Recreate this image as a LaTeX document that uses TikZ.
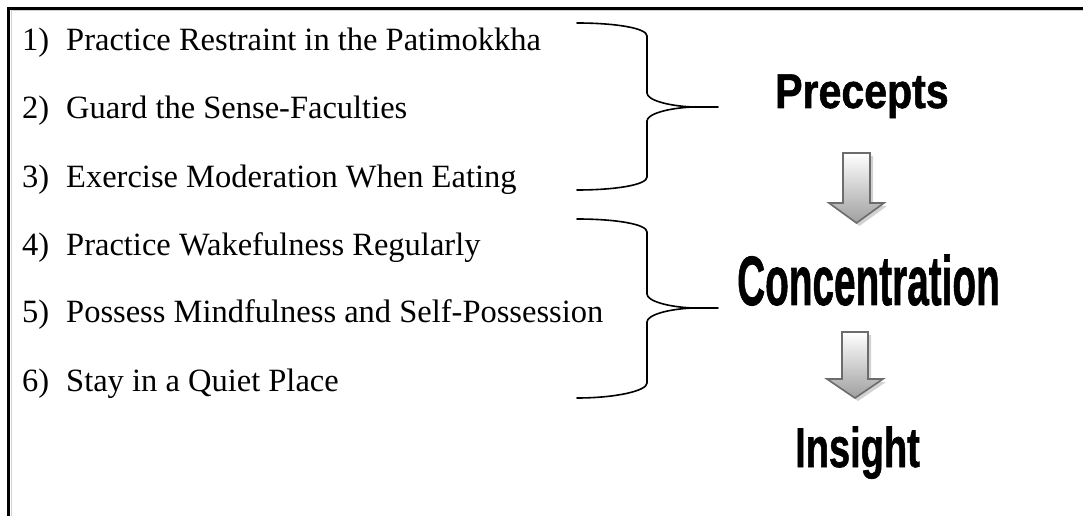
\documentclass[tikz,border=0pt]{standalone}
\usepackage{fontspec}
\setmainfont{Liberation Serif}
\newfontfamily\hdfont{Liberation Sans}[BoldFeatures={FakeBold=1.2}]
\usetikzlibrary{shadings}
\begin{document}
\begin{tikzpicture}[x=1bp,y=-1bp,
  item/.style={anchor=base west,inner sep=0pt,font=\fontsize{32.5bp}{33bp}\selectfont},
  brace/.style={line width=1.6bp,line cap=round},
  frame/.style={line width=2.6bp},
  stage/.style={anchor=base west,inner sep=0pt},
  blockarrow/.style={draw=gray!85!black,line width=1.6bp,line join=miter,top color=white,bottom color=gray!75},
  arrowshadow/.style={fill=gray!35,draw=none}]
\useasboundingbox (0,0) rectangle (1083,516);
% frame (left and top edges)
\draw[gray!35,line width=1bp] (11,516) -- (11,11) -- (1083,11);
\draw[frame] (8.5,516) -- (8.5,8.5) -- (1083,8.5);
% list items
\node[item] (n1) at (22,51) {1)};
\node[item] (t1) at (66,51) {Practice Restraint in the Patimokkha};
\node[item] (n2) at (22,119) {2)};
\node[item] (t2) at (66,119) {Guard the Sense-Faculties};
\node[item] (n3) at (22,188) {3)};
\node[item] (t3) at (66,188) {Exercise Moderation When Eating};
\node[item] (n4) at (22,256) {4)};
\node[item] (t4) at (66,256) {Practice Wakefulness Regularly};
\node[item] (n5) at (22,323) {5)};
\node[item] (t5) at (66,323) {Possess Mindfulness and Self-Possession};
\node[item] (n6) at (22,391) {6)};
\node[item] (t6) at (66,391) {Stay in a Quiet Place};
% braces
\draw[brace] (577,23) .. controls (615,23) and (647,28) .. (647,36) -- (647,93)
  .. controls (647,100) and (668,106) .. (693,107) -- (718,107);
\draw[brace] (693,107) .. controls (668,108) and (647,114) .. (647,121) -- (647,177)
  .. controls (647,185) and (615,190) .. (577,190);
\draw[brace] (577,219) .. controls (615,219) and (647,224) .. (647,232) -- (647,294)
  .. controls (647,301) and (668,307) .. (693,308) -- (718,308);
\draw[brace] (693,308) .. controls (668,309) and (647,315) .. (647,322) -- (647,383)
  .. controls (647,391) and (615,398) .. (577,398);
% stages
\node[stage] (prec) at (775,108) {\hdfont\bfseries\fontsize{48.9bp}{49bp}\selectfont\scalebox{0.84}[1]{Precepts}};
\node[stage] (conc) at (737,305) {\hdfont\bfseries\fontsize{69.8bp}{70bp}\selectfont\scalebox{0.555}[1]{Concentration}};
\node[stage] (ins) at (795,467) {\hdfont\bfseries\fontsize{55.9bp}{56bp}\selectfont\scalebox{0.68}[1]{Insight}};
% block arrows
\fill[arrowshadow,shift={(3,3)}] (843,153) -- (870,153) -- (870,203) -- (884,203) -- (856.5,223) -- (829,203) -- (843,203) -- cycle;
\path[blockarrow] (843,153) -- (870,153) -- (870,203) -- (884,203) -- (856.5,223) -- (829,203) -- (843,203) -- cycle;
\fill[arrowshadow,shift={(3,3)}] (842,332) -- (868,332) -- (868,379) -- (883,379) -- (855,398) -- (827,379) -- (842,379) -- cycle;
\path[blockarrow] (842,332) -- (868,332) -- (868,379) -- (883,379) -- (855,398) -- (827,379) -- (842,379) -- cycle;
\end{tikzpicture}
\end{document}
